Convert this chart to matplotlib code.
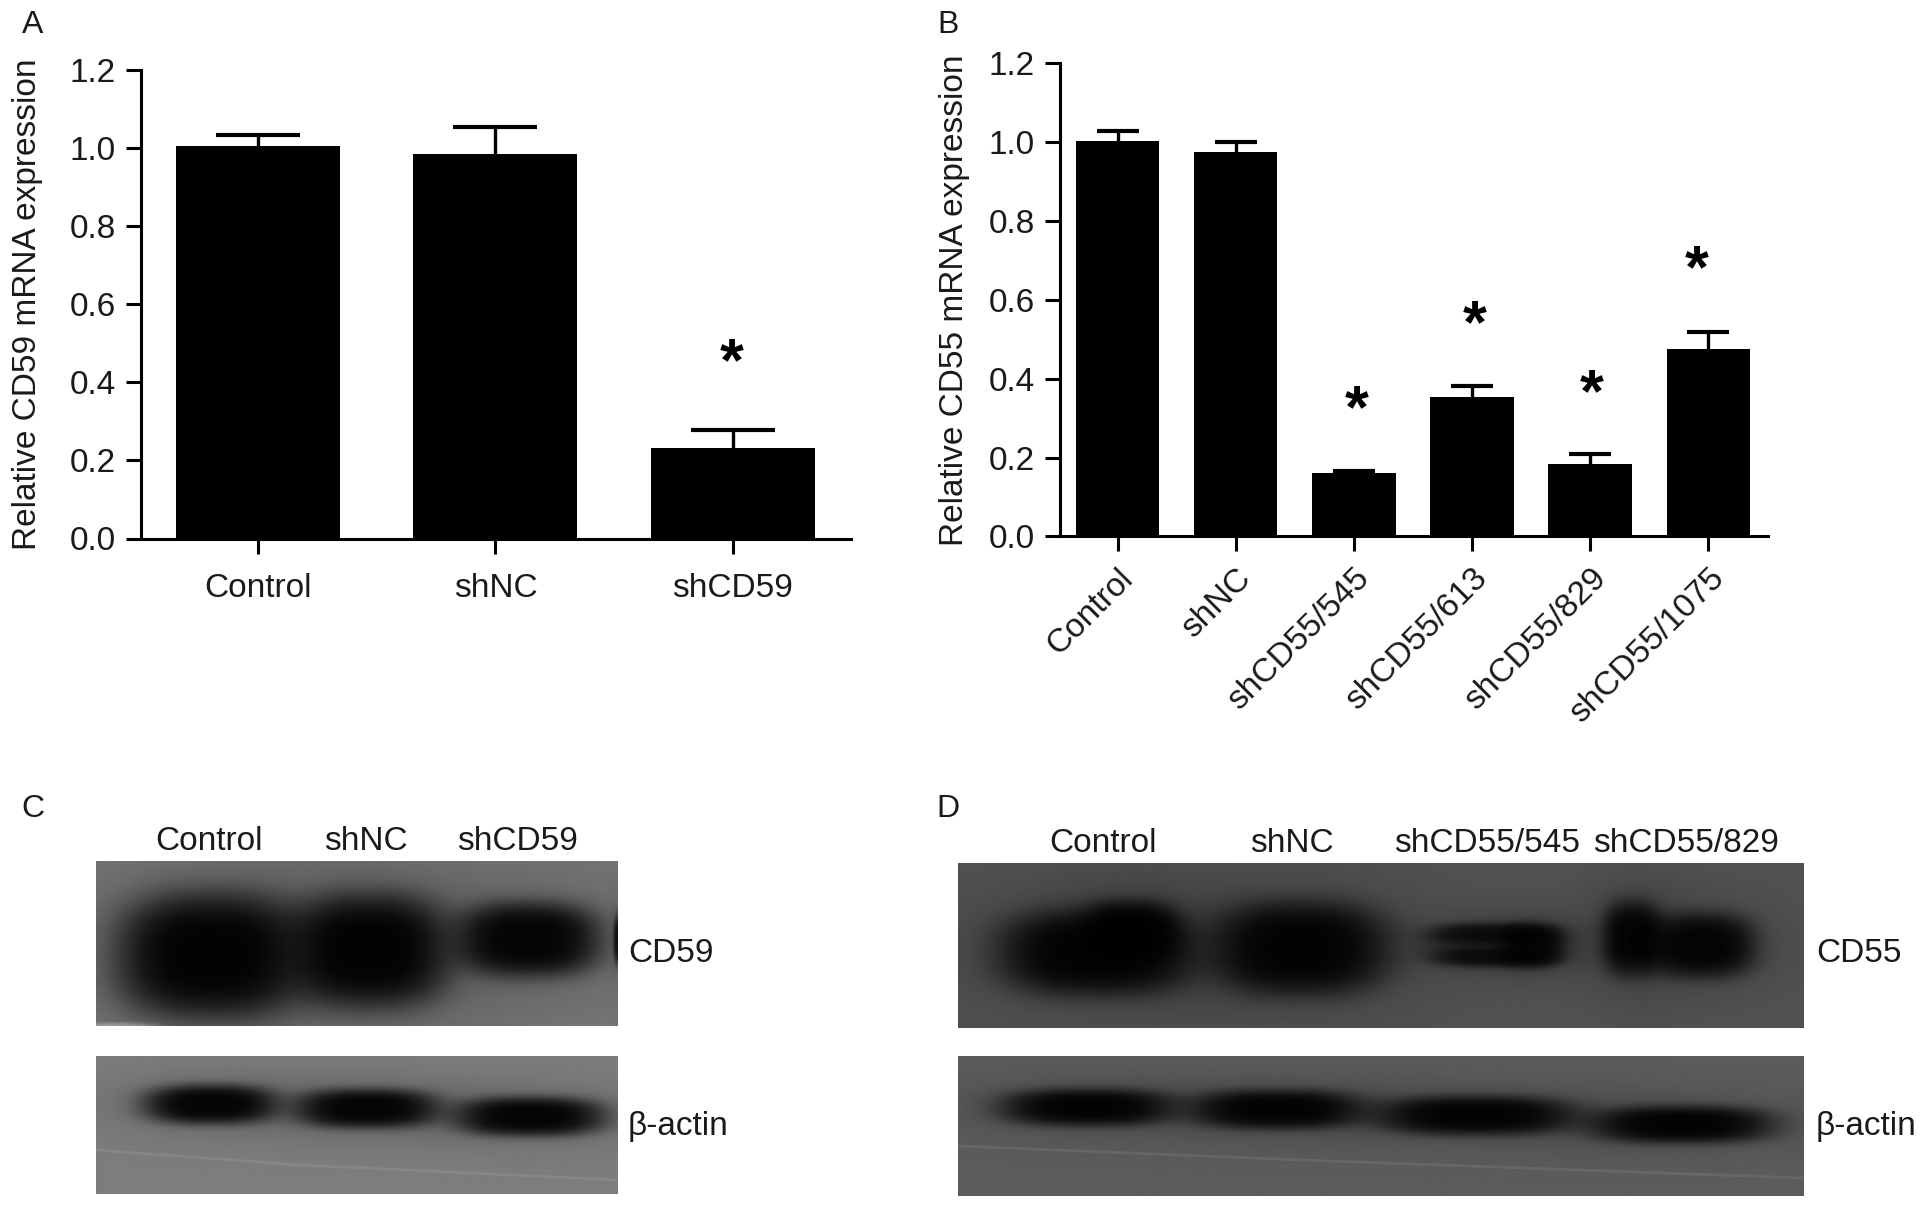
import numpy as np
import matplotlib
matplotlib.use('Agg')
import matplotlib.pyplot as plt

plt.rcParams['font.family'] = ['Liberation Sans', 'DejaVu Sans']

W = 1926
H = 1210
TEXT_COL = '#1a1a1a'

# panel A
labels_a = ['Control', 'shNC', 'shCD59']
vals_a = [1.005, 0.985, 0.232]
errs_a = [0.028, 0.069, 0.046]
stars_a = [(1.995, 0.445)]

# panel B
labels_b = ['Control', 'shNC', 'shCD55/545', 'shCD55/613', 'shCD55/829', 'shCD55/1075']
vals_b = [1.003, 0.975, 0.161, 0.354, 0.185, 0.474]
errs_b = [0.024, 0.025, 0.004, 0.027, 0.025, 0.045]
stars_b = [(2.02, 0.316), (3.02, 0.531), (4.01, 0.358), (4.9, 0.672)]

yticks = [0.0, 0.2, 0.4, 0.6, 0.8, 1.0, 1.2]

# blot bands: x centre, half width, y centre, half height, strength (picture pixels)
bands_c_top = [(210, 96, 955, 64, 0.97), (368, 82, 950, 58, 0.97),
               (527, 74, 939, 38, 0.95), (617, 5, 939, 24, 0.8),
               (120, 40, 1027, 5, -0.45)]
bands_c_low = [(210, 68, 1104, 20, 0.95), (366, 73, 1108, 20, 0.95), (529, 76, 1116, 20, 0.95)]
bands_d_top = [(1096, 100, 952, 44, 0.95), (1130, 50, 930, 30, 0.9), (1299, 90, 948, 48, 0.95),
               (1494, 70, 945, 22, 0.55), (1494, 66, 933, 10, 0.6), (1494, 62, 957, 9, 0.6),
               (1530, 32, 945, 22, 0.8),
               (1632, 32, 938, 38, 0.93), (1700, 56, 945, 33, 0.93)]
bands_d_low = [(1087, 88, 1107, 19, 0.95), (1276, 88, 1109, 20, 0.95),
               (1475, 101, 1115, 20, 0.95), (1681, 92, 1124, 19, 0.95)]

fig = plt.figure(figsize=(W / 100, H / 100), dpi=100, facecolor='white')


def add_axes_px(x0, y0, x1, y1):
    return fig.add_axes([x0 / W, 1 - y1 / H, (x1 - x0) / W, (y1 - y0) / H])


def put_text(x, y, s, **kw):
    fig.text(x / W, 1 - y / H, s, color=TEXT_COL, **kw)


def bar_panel(box, xlim, labels, vals, errs, stars, ylabel, width, cap, rot, label_x):
    ax = add_axes_px(*box)
    xs = np.arange(len(vals))
    ax.bar(xs, vals, width=width, color='black')
    eb = ax.errorbar(xs, vals, yerr=[np.zeros(len(errs)), errs], fmt='none', ecolor='black',
                     elinewidth=2.4, capsize=cap, capthick=3)
    # only the upper caps, lower ones would stick out of the bar tops
    eb[1][0].set_visible(False)
    for sx, sy in stars:
        ax.text(sx, sy, '*', fontsize=44, ha='center', va='center', color='black',
                fontweight='bold')
    ax.set_xlim(*xlim)
    ax.set_ylim(0, 1.2)
    ax.set_yticks(yticks)
    ax.set_yticklabels(['%.1f' % t for t in yticks], fontsize=24, color=TEXT_COL)
    ax.set_xticks(xs)
    if rot:
        ax.set_xticklabels(labels, fontsize=24, color=TEXT_COL, rotation=45, ha='right',
                           rotation_mode='anchor')
    else:
        ax.set_xticklabels(labels, fontsize=24, color=TEXT_COL)
    ax.tick_params(axis='both', length=11, width=2.2, color='black')
    ax.tick_params(axis='x', pad=14 if not rot else 8)
    ax.tick_params(axis='y', pad=7)
    for s in ['top', 'right']:
        ax.spines[s].set_visible(False)
    for s in ['left', 'bottom']:
        ax.spines[s].set_linewidth(2.2)
    ax.set_ylabel(ylabel, fontsize=24, color=TEXT_COL)
    ax.yaxis.set_label_coords(label_x, 0.5)
    return ax


def blot(box, bands, bg, scratch=None):
    x0, y0, x1, y1 = box
    xx, yy = np.meshgrid(np.arange(x0, x1), np.arange(y0, y1))
    img = np.full(xx.shape, float(bg))
    for bx, hw, by, hh, amp in bands:
        dx = np.abs(xx - bx) / hw
        dy = np.abs(yy - by) / hh
        r = dx ** 2.6 + dy ** 2.6
        img *= 1 - amp * np.exp(-r ** 1.6)
        if amp > 0:
            img *= 1 - 0.18 * amp * np.exp(-(dx ** 2 + dy ** 2) / 2.6)
    img = np.clip(img, 0, 255)
    ax = add_axes_px(x0, y0, x1, y1)
    ax.imshow(img, cmap='gray', vmin=0, vmax=255, aspect='auto',
              extent=[x0, x1, y1, y0], interpolation='bilinear')
    if scratch:
        ax.plot(scratch[0], scratch[1], color='white', alpha=0.08, lw=2)
        ax.set_xlim(x0, x1)
        ax.set_ylim(y1, y0)
    ax.axis('off')


bar_panel((141, 69.5, 851, 538.5), (-0.492, 2.497), labels_a, vals_a, errs_a, stars_a,
          'Relative CD59 mRNA expression', 0.69, 30, False, (43 - 141) / 710)
bar_panel((1060, 63, 1768, 536.5), (-0.487, 5.505), labels_b, vals_b, errs_b, stars_b,
          'Relative CD55 mRNA expression', 0.706, 15, True, (970 - 1060) / 708)

blot((96, 861, 617, 1026), bands_c_top, 118)
blot((96, 1056, 617, 1194), bands_c_low, 125, ([96, 300, 617], [1150, 1165, 1180]))
blot((958, 863, 1803, 1028), bands_d_top, 82)
blot((958, 1056, 1803, 1196), bands_d_low, 92, ([958, 1300, 1803], [1146, 1160, 1178]))

for x, y, s in [(33, 25, 'A'), (948, 25, 'B'), (33, 809, 'C'), (948, 809, 'D')]:
    put_text(x, y, s, fontsize=23, ha='center', va='center')

for x, s in zip([209, 366, 518], labels_a):
    put_text(x, 841, s, fontsize=24, ha='center', va='center')
for x, s in zip([1103, 1292, 1487, 1686], ['Control', 'shNC', 'shCD55/545', 'shCD55/829']):
    put_text(x, 843, s, fontsize=24, ha='center', va='center')

put_text(628, 954, 'CD59', fontsize=24, ha='left', va='center')
put_text(628, 1126, 'β-actin', fontsize=24, ha='left', va='center')
put_text(1816, 954, 'CD55', fontsize=24, ha='left', va='center')
put_text(1816, 1126, 'β-actin', fontsize=24, ha='left', va='center')

fig.savefig('out.png', dpi=100, facecolor='white')
